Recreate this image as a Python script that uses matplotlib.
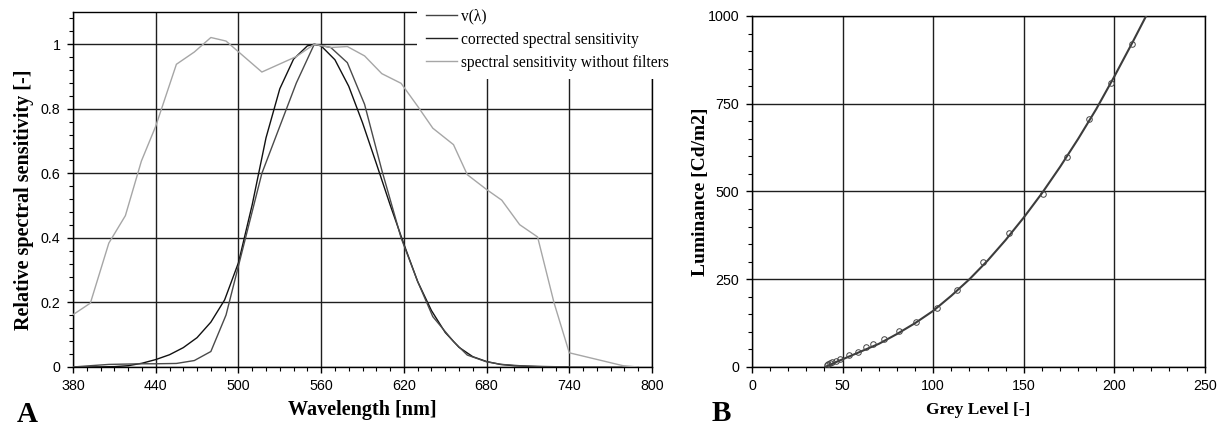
import matplotlib
matplotlib.use('Agg')
import matplotlib.pyplot as plt
from matplotlib.ticker import MultipleLocator, FuncFormatter
from matplotlib.lines import Line2D

# ---------------- data: panel A ----------------
cie_wl = [380, 390, 400, 410, 420, 430, 440, 450, 460, 470, 480, 490, 500, 510, 520,
          530, 540, 550, 555, 560, 570, 580, 590, 600, 610, 620, 630, 640, 650, 660,
          670, 680, 690, 700, 710, 720, 730, 740]
cie_v = [0.0, 0.0001, 0.0004, 0.0012, 0.004, 0.0116, 0.023, 0.038, 0.060, 0.091, 0.139,
         0.208, 0.323, 0.503, 0.710, 0.862, 0.954, 0.995, 1.0, 0.995, 0.952, 0.870, 0.757,
         0.631, 0.503, 0.381, 0.265, 0.175, 0.107, 0.061, 0.032, 0.017, 0.008, 0.004,
         0.002, 0.001, 0.0005, 0.0]

meas_wl = [380, 392.6, 406, 418, 429.6, 440, 455, 468, 480, 491, 517, 542, 555, 567,
           579, 591.5, 604, 618, 630, 641, 656, 666, 680, 691, 704, 717, 729, 740, 779, 790]
corrected_v = [0.0, 0.004, 0.008, 0.009, 0.010, 0.010, 0.011, 0.020, 0.048, 0.161, 0.600,
               0.880, 1.0, 0.990, 0.943, 0.814, 0.610, 0.400, 0.265, 0.156, 0.079, 0.037,
               0.016, 0.008, 0.004, 0.002, 0.001, 0.0, 0.0, 0.0]
nofilter_v = [0.162, 0.198, 0.384, 0.469, 0.638, 0.746, 0.938, 0.976, 1.021, 1.010, 0.914,
              0.962, 1.0, 0.990, 0.993, 0.964, 0.909, 0.879, 0.808, 0.740, 0.689, 0.596,
              0.550, 0.517, 0.441, 0.403, 0.198, 0.044, 0.004, 0.0]

wl_ticks = [380, 440, 500, 560, 620, 680, 740, 800]
legend_labels = ['v(\u03bb)', 'corrected spectral sensitivity', 'spectral sensitivity without filters']

# ---------------- data: panel B ----------------
grey_meas = [41.4, 42.1, 43.0, 44.3, 46.2, 48.6, 53.4, 58.3, 62.9, 66.8, 72.7, 81.3, 90.7,
             102.1, 113.3, 127.7, 142.0, 160.4, 174.0, 186.2, 198.0, 209.5]
lum_meas = [4.8, 7.6, 10.4, 14, 18, 22.8, 33.2, 42.7, 56, 64.6, 79, 103, 128, 168, 219,
            298, 381, 493, 599, 706, 810, 919]
grey_fit = [40.5, 45, 50, 60, 70, 80, 90, 100, 110, 120, 130, 140, 150, 160, 170, 180,
            190, 200, 210, 217.5, 222]
lum_fit = [0, 11, 22, 44, 66, 94, 125, 160, 203, 250, 303, 362, 426, 495, 570, 650,
           735, 828, 925, 1000, 1040]

# ---------------- styling ----------------
SERIF = 'Liberation Serif'
SANS = 'Liberation Sans'
plt.rcParams['font.family'] = SANS

fig = plt.figure(figsize=(12.23, 4.29), dpi=100)
W, H = 1223, 429
axA = fig.add_axes([73 / W, (H - 367) / H, 579 / W, 355 / H])
axB = fig.add_axes([752 / W, (H - 367) / H, 453 / W, 351 / H])

grid_kw = dict(color='#1e1e1e', linewidth=1.0)

for ax in (axA, axB):
    for s in ax.spines.values():
        s.set_color('black')
        s.set_linewidth(1.0)
    ax.tick_params(which='major', direction='out', length=4, width=1.0, pad=5,
                   labelsize=10.3, colors='black')
    ax.tick_params(which='minor', direction='out', length=3, width=0.8)
    ax.grid(True, which='major', **grid_kw)
    ax.set_axisbelow(True)

# Panel A
axA.plot(cie_wl, cie_v, color='#111111', lw=1.0, zorder=3)
axA.plot(meas_wl, corrected_v, color='#4a4a4a', lw=1.0, zorder=3)
axA.plot(meas_wl, nofilter_v, color='#a6a6a6', lw=1.0, zorder=3)
axA.set_xlim(380, 800)
axA.set_ylim(0, 1.1)
axA.set_xticks(wl_ticks)
axA.xaxis.set_minor_locator(MultipleLocator(10))
axA.yaxis.set_major_locator(MultipleLocator(0.2))
axA.yaxis.set_minor_locator(MultipleLocator(0.04))
axA.yaxis.set_major_formatter(FuncFormatter(lambda v, p: '%g' % round(v, 2)))
axA.set_xlabel('Wavelength [nm]', family=SERIF, fontweight='bold', fontsize=14.5, labelpad=5)
axA.set_ylabel('Relative spectral sensitivity [-]', family=SERIF, fontweight='bold',
               fontsize=14.5, labelpad=5, y=0.47)

handles = [Line2D([], [], color='#444444', lw=1.0),
           Line2D([], [], color='#222222', lw=1.0),
           Line2D([], [], color='#a6a6a6', lw=1.0)]
leg = axA.legend(handles, legend_labels, loc='upper left',
                 bbox_to_anchor=(417 / W, 1.0), bbox_transform=fig.transFigure,
                 frameon=True, facecolor='white', edgecolor='white', framealpha=1,
                 fancybox=False, borderaxespad=0, borderpad=0.55, handlelength=2.0,
                 handletextpad=0.3, labelspacing=0.45,
                 prop={'family': SERIF, 'size': 11.2})
leg.set_zorder(10)
leg.get_frame().set_linewidth(0)

# Panel B
axB.plot(grey_fit, lum_fit, color='#3c3c3c', lw=1.5, zorder=3)
axB.plot(grey_meas, lum_meas, linestyle='none', marker='o', markersize=4,
         markerfacecolor='none', markeredgecolor='#444444', markeredgewidth=0.7, zorder=4)
axB.set_xlim(0, 250)
axB.set_ylim(0, 1000)
axB.xaxis.set_major_locator(MultipleLocator(50))
axB.xaxis.set_minor_locator(MultipleLocator(10))
axB.yaxis.set_major_locator(MultipleLocator(250))
axB.yaxis.set_minor_locator(MultipleLocator(50))
axB.set_xlabel('Grey Level [-]', family=SERIF, fontweight='bold', fontsize=12.5, labelpad=6)
axB.set_ylabel('Luminance [Cd/m2]', family=SERIF, fontweight='bold', fontsize=14, labelpad=-1)

fig.text(17 / W, (H - 422) / H, 'A', family=SERIF, fontweight='bold', fontsize=21,
         ha='left', va='baseline')
fig.text(712 / W, (H - 421) / H, 'B', family=SERIF, fontweight='bold', fontsize=21,
         ha='left', va='baseline')

fig.savefig('out.png', dpi=100)
